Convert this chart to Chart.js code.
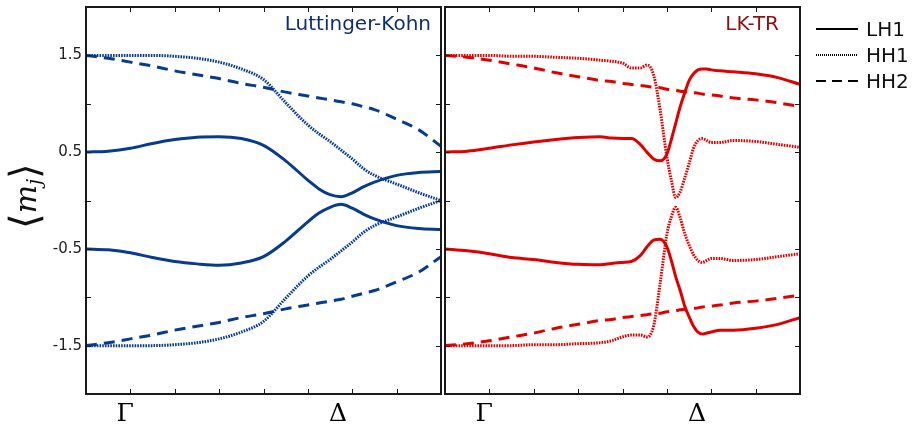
<!DOCTYPE html>
<html>
<head>
<meta charset="utf-8">
<script src="https://cdn.jsdelivr.net/npm/chart.js@4.4.1/dist/chart.umd.min.js"></script>
<style>
html, body { margin: 0; padding: 0; background: #fff; }
#wrap { position: relative; width: 915px; height: 430px; }
#lk { position: absolute; left: 0; top: 0; }
#tr { position: absolute; left: 443px; top: 0; }
</style>
</head>
<body>
<div id="wrap">
<canvas id="lk" width="443" height="430"></canvas>
<canvas id="tr" width="472" height="430"></canvas>
</div>
<script>
// ---------------- DATA ----------------

// Luttinger-Kohn panel
const lkX = [0, 0.5, 1, 1.5, 2, 2.5, 3, 3.5, 4, 4.5, 5, 5.25, 5.5, 5.75, 6, 6.25, 6.5, 7, 7.5, 8];
const lkLH1up = [0.50, 0.51, 0.54, 0.59, 0.63, 0.655, 0.66, 0.64, 0.57, 0.41, 0.21, 0.12, 0.06, 0.04, 0.08, 0.14, 0.19, 0.26, 0.29, 0.30];
const lkLH1dn = [-0.50, -0.51, -0.54, -0.59, -0.63, -0.655, -0.67, -0.645, -0.58, -0.42, -0.22, -0.13, -0.07, -0.04, -0.08, -0.14, -0.19, -0.26, -0.29, -0.30];
const lkHH1up = [1.50, 1.50, 1.50, 1.50, 1.49, 1.47, 1.43, 1.36, 1.25, 1.01, 0.78, 0.69, 0.61, 0.52, 0.43, 0.33, 0.26, 0.17, 0.08, 0.0];
const lkHH1dn = [-1.50, -1.50, -1.50, -1.50, -1.49, -1.47, -1.43, -1.36, -1.25, -1.01, -0.78, -0.69, -0.61, -0.52, -0.43, -0.33, -0.26, -0.17, -0.08, 0.0];
const lkHH2up = [1.50, 1.47, 1.43, 1.39, 1.34, 1.30, 1.26, 1.21, 1.17, 1.12, 1.08, 1.06, 1.04, 1.02, 1.00, 0.97, 0.94, 0.84, 0.73, 0.56];
const lkHH2dn = [-1.50, -1.47, -1.43, -1.39, -1.34, -1.30, -1.26, -1.21, -1.17, -1.12, -1.08, -1.06, -1.04, -1.02, -0.99, -0.96, -0.93, -0.84, -0.74, -0.58];

// LK-TR panel
const trX = [0, 0.5, 1, 1.5, 2, 2.5, 3, 3.5, 3.75, 4, 4.2, 4.4, 4.55, 4.7, 4.85, 5.0, 5.1, 5.2, 5.3, 5.4, 5.5, 5.6, 5.7, 5.8, 5.9, 6.0, 6.2, 6.5, 7, 7.5, 8];
const trLH1up = [0.50, 0.51, 0.54, 0.575, 0.605, 0.63, 0.65, 0.66, 0.645, 0.64, 0.64, 0.58, 0.50, 0.43, 0.41, 0.48, 0.63, 0.80, 0.97, 1.11, 1.24, 1.31, 1.35, 1.36, 1.36, 1.35, 1.34, 1.33, 1.31, 1.27, 1.20];
const trLH1dn = [-0.50, -0.52, -0.55, -0.59, -0.61, -0.64, -0.66, -0.665, -0.65, -0.64, -0.63, -0.57, -0.48, -0.41, -0.40, -0.48, -0.62, -0.79, -0.93, -1.09, -1.20, -1.30, -1.36, -1.38, -1.37, -1.36, -1.34, -1.34, -1.32, -1.28, -1.21];
const trHH1up = [1.50, 1.50, 1.50, 1.49, 1.49, 1.48, 1.47, 1.45, 1.44, 1.42, 1.37, 1.37, 1.40, 1.30, 0.93, 0.45, 0.21, 0.03, 0.09, 0.23, 0.38, 0.54, 0.62, 0.64, 0.62, 0.60, 0.60, 0.62, 0.61, 0.58, 0.55];
const trHH1dn = [-1.50, -1.50, -1.50, -1.50, -1.49, -1.49, -1.48, -1.47, -1.45, -1.41, -1.39, -1.39, -1.41, -1.30, -0.85, -0.35, -0.17, -0.07, -0.18, -0.34, -0.46, -0.56, -0.62, -0.64, -0.62, -0.60, -0.60, -0.62, -0.61, -0.58, -0.55];
const trHH2up = [1.50, 1.48, 1.45, 1.41, 1.37, 1.32, 1.28, 1.24, 1.23, 1.21, 1.20, 1.19, 1.18, 1.17, 1.165, 1.15, 1.145, 1.14, 1.13, 1.125, 1.12, 1.115, 1.11, 1.10, 1.095, 1.09, 1.08, 1.06, 1.04, 1.01, 0.97];
const trHH2dn = [-1.50, -1.48, -1.45, -1.41, -1.37, -1.32, -1.28, -1.24, -1.23, -1.21, -1.20, -1.19, -1.18, -1.17, -1.165, -1.15, -1.145, -1.14, -1.13, -1.125, -1.12, -1.115, -1.11, -1.10, -1.095, -1.09, -1.08, -1.06, -1.04, -1.01, -0.98];

// axis ticks and labels
const xTicks = [1, 2, 3, 4, 5, 6, 7];
const yTicks = [-1.5, -1, -0.5, 0, 0.5, 1, 1.5];
const kPoints = [
    { label: "Γ", x: 0.88 },
    { label: "Δ", x: 5.68 }
];
const legendItems = [
    { label: "LH1", dash: [] },
    { label: "HH1", dash: [1, 1] },
    { label: "HH2", dash: [10, 6] }
];

const BLUE = "#063b8e";
const RED = "#e00000";
const DOT = [1.6, 1.1];
const DASH = [11, 7];

// ---------------- HELPERS ----------------

function pts(xs, ys) {
    return xs.map((x, i) => ({ x: x, y: ys[i] }));
}

function line(xs, ys, color, dash) {
    return {
        data: pts(xs, ys),
        borderColor: color,
        borderWidth: 3,
        borderDash: dash,
        pointRadius: 0,
        fill: false,
        cubicInterpolationMode: "monotone"
    };
}

// frame, inward ticks, Γ/Δ labels, panel title
function panelPlugin(title, titleColor, titleInset) {
    return {
        id: "panel",
        afterDatasetsDraw(chart) {
            const ctx = chart.ctx;
            const a = chart.chartArea;
            const xs = chart.scales.x;
            const ys = chart.scales.y;
            ctx.save();

            ctx.strokeStyle = "#1a1a1a";
            ctx.lineWidth = 1;
            ctx.beginPath();
            xTicks.forEach(v => {
                const px = Math.round(xs.getPixelForValue(v)) + 0.5;
                ctx.moveTo(px, a.bottom);
                ctx.lineTo(px, a.bottom - 5);
                ctx.moveTo(px, a.top);
                ctx.lineTo(px, a.top + 5);
            });
            yTicks.forEach(v => {
                const py = Math.round(ys.getPixelForValue(v)) + 0.5;
                ctx.moveTo(a.left, py);
                ctx.lineTo(a.left + 5, py);
                ctx.moveTo(a.right, py);
                ctx.lineTo(a.right - 5, py);
            });
            ctx.stroke();

            ctx.lineWidth = 2;
            ctx.strokeRect(a.left, a.top, a.right - a.left, a.bottom - a.top);

            ctx.fillStyle = "#000";
            ctx.font = "25px 'DejaVu Serif'";
            ctx.textAlign = "center";
            ctx.textBaseline = "alphabetic";
            kPoints.forEach(k => {
                ctx.fillText(k.label, xs.getPixelForValue(k.x), 421);
            });

            ctx.fillStyle = titleColor;
            ctx.font = "20px 'DejaVu Sans'";
            ctx.textAlign = "right";
            ctx.fillText(title, a.right - titleInset, 30);

            ctx.restore();
        }
    };
}

// rotated <m_j> label
const yLabelPlugin = {
    id: "ylabel",
    afterDraw(chart) {
        const ctx = chart.ctx;
        ctx.save();
        ctx.translate(28, 196);
        ctx.rotate(-Math.PI / 2);
        ctx.fillStyle = "#111";
        ctx.textAlign = "left";
        const parts = [
            { t: "⟨", f: "200 40px 'DejaVu Sans'", dy: 0, base: "middle" },
            { t: "m", f: "italic 30px 'DejaVu Serif'", dy: 8, base: "alphabetic" },
            { t: "j", f: "italic 20px 'DejaVu Serif'", dy: 13, base: "alphabetic" },
            { t: "⟩", f: "200 40px 'DejaVu Sans'", dy: 0, base: "middle" }
        ];
        let total = 0;
        parts.forEach(p => { ctx.font = p.f; p.w = ctx.measureText(p.t).width; total += p.w; });
        let x = -total / 2;
        parts.forEach(p => {
            ctx.font = p.f;
            ctx.textBaseline = p.base;
            ctx.fillText(p.t, x, p.dy);
            x += p.w;
        });
        ctx.restore();
    }
};

const legendPlugin = {
    id: "sideLegend",
    afterDraw(chart) {
        const ctx = chart.ctx;
        ctx.save();
        ctx.strokeStyle = "#000";
        ctx.fillStyle = "#111";
        ctx.lineWidth = 2;
        ctx.font = "20px 'DejaVu Sans'";
        ctx.textAlign = "left";
        ctx.textBaseline = "alphabetic";
        legendItems.forEach((item, i) => {
            const y = 29 + i * 26;
            ctx.setLineDash(item.dash);
            ctx.beginPath();
            ctx.moveTo(373, y);
            ctx.lineTo(415, y);
            ctx.stroke();
            ctx.setLineDash([]);
            ctx.fillText(item.label, 423, y + 7);
        });
        ctx.restore();
    }
};

function baseOptions(showY, padding) {
    return {
        responsive: false,
        animation: false,
        layout: { padding: padding },
        plugins: { legend: { display: false }, tooltip: { enabled: false } },
        scales: {
            x: { type: "linear", min: 0, max: 8, display: false },
            y: {
                min: -2,
                max: 2,
                display: showY,
                afterFit: s => {
                    if (showY) {
                        s.width = 86;
                    } else {
                        s.width = 0;
                    }
                    s.paddingTop = 0;
                    s.paddingBottom = 0;
                },
                grid: { display: false, drawTicks: false },
                border: { display: false },
                ticks: {
                    stepSize: 0.5,
                    padding: 4,
                    color: "#222",
                    autoSkip: false,
                    font: { family: "DejaVu Sans", size: 15 },
                    callback: v => Math.abs(Math.abs(v) % 1 - 0.5) < 1e-6 ? String(v) : ""
                }
            }
        }
    };
}

// ---------------- LEFT PANEL ----------------

new Chart(document.getElementById("lk"), {
    type: "line",
    data: {
        datasets: [
            line(lkX, lkLH1up, BLUE, []),
            line(lkX, lkLH1dn, BLUE, []),
            line(lkX, lkHH1up, BLUE, DOT),
            line(lkX, lkHH1dn, BLUE, DOT),
            line(lkX, lkHH2up, BLUE, DASH),
            line(lkX, lkHH2dn, BLUE, DASH)
        ]
    },
    options: baseOptions(true, { top: 7, bottom: 36, left: 0, right: 2 }),
    plugins: [panelPlugin("Luttinger-Kohn", "#0f2f6f", 10), yLabelPlugin]
});

// ---------------- RIGHT PANEL ----------------

new Chart(document.getElementById("tr"), {
    type: "line",
    data: {
        datasets: [
            line(trX, trLH1up, RED, []),
            line(trX, trLH1dn, RED, []),
            line(trX, trHH1up, RED, DOT),
            line(trX, trHH1dn, RED, DOT),
            line(trX, trHH2up, RED, DASH),
            line(trX, trHH2dn, RED, DASH)
        ]
    },
    options: baseOptions(false, { top: 7, bottom: 36, left: 2, right: 115 }),
    plugins: [panelPlugin("LK-TR", "#8c1111", 21), legendPlugin]
});
</script>
</body>
</html>
